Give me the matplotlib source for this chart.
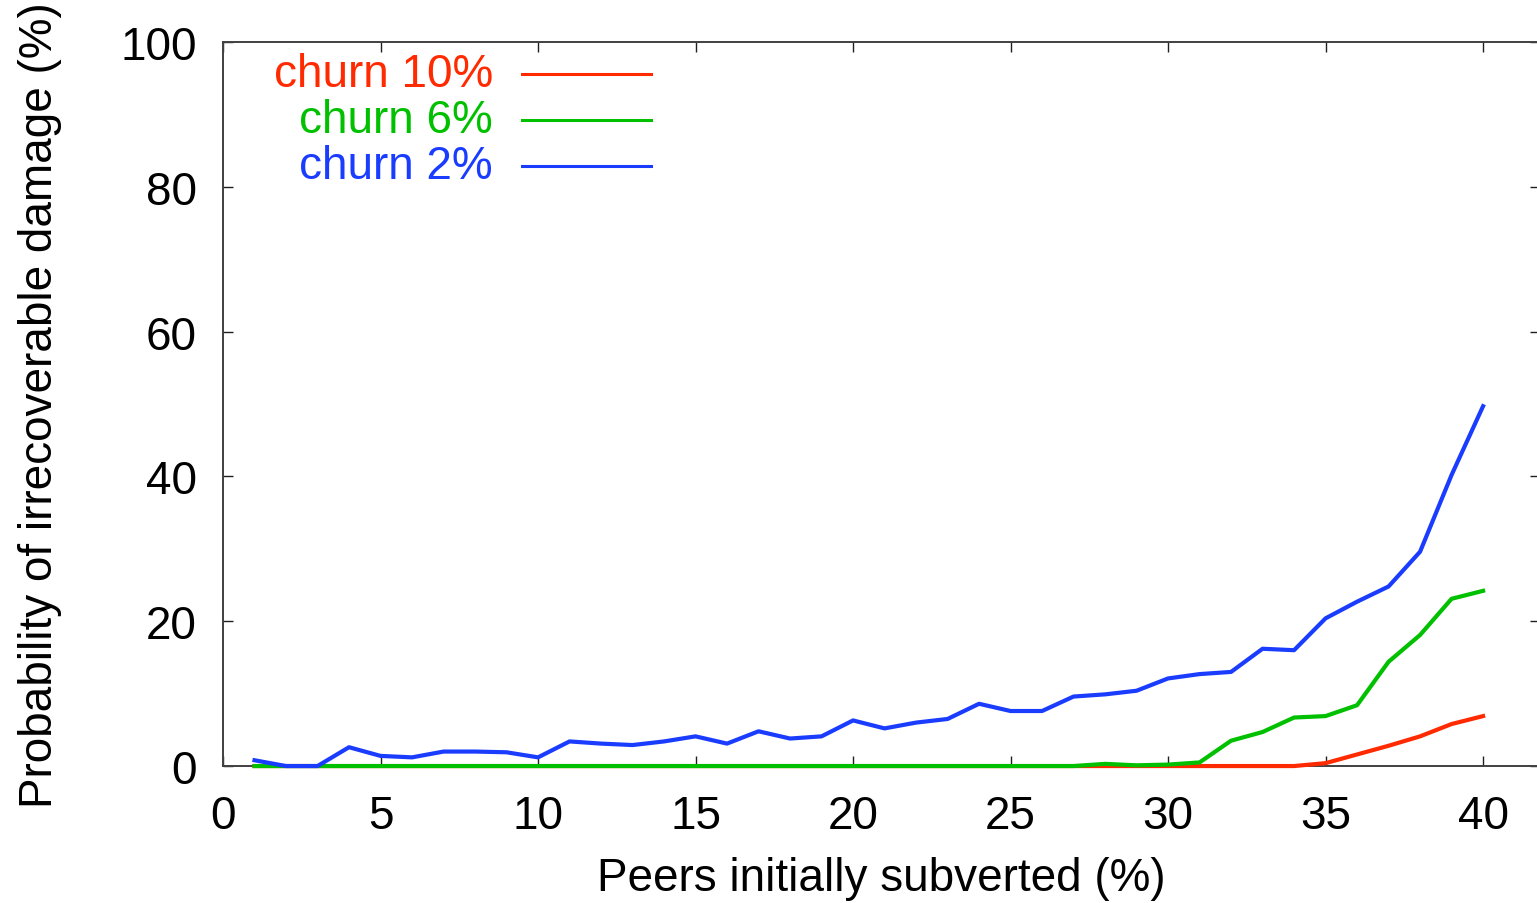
import numpy as np
import matplotlib
matplotlib.use("Agg")
import matplotlib.pyplot as plt

plt.rcParams['font.family'] = ['Liberation Sans', 'DejaVu Sans']

# peers initially subverted (%)
subverted = np.arange(1, 41)

churn_2 = [0.8, 0.0, 0.0, 2.6, 1.4, 1.2, 2.0, 2.0, 1.9, 1.2,
           3.4, 3.1, 2.9, 3.4, 4.1, 3.1, 4.8, 3.8, 4.1, 6.3,
           5.2, 6.0, 6.5, 8.6, 7.6, 7.6, 9.6, 9.9, 10.4, 12.1,
           12.7, 13.0, 16.2, 16.0, 20.4, 22.7, 24.8, 29.6, 40.2, 49.7]
churn_6 = [0.0] * 27 + [0.3, 0.1, 0.2, 0.5, 3.5, 4.7, 6.7, 6.9, 8.4,
                        14.4, 18.1, 23.1, 24.2]
churn_10 = [0.0] * 34 + [0.4, 1.6, 2.8, 4.1, 5.8, 6.9]

labels = ["churn 10%", "churn 6%", "churn 2%"]
colors = ["#ff2a00", "#00c000", "#1a3cff"]
series = [churn_10, churn_6, churn_2]

fs = 33

fig = plt.figure(figsize=(15.37, 9.04), dpi=100)
ax = fig.add_axes([0.1451, 0.1515, 0.8567, 0.8009])

for ys, c in zip(series, colors):
    ax.plot(subverted, ys, color=c, lw=3.0, zorder=3, clip_on=False)

ax.set_xlim(0, 41.8)
ax.set_ylim(0, 100)
ax.set_xticks(range(0, 41, 5))
ax.set_yticks(range(0, 101, 20))

for s in ax.spines.values():
    s.set_color("#404040")
    s.set_linewidth(1.4)
ax.tick_params(direction="in", length=7, width=1.0, color="#202020",
               top=True, right=True, labelsize=fs)
ax.tick_params(axis="x", pad=20)
ax.tick_params(axis="y", pad=19)

ax.set_xlabel("Peers initially subverted (%)", fontsize=fs, labelpad=13)
ax.set_ylabel("Probability of irrecoverable damage (%)", fontsize=fs, labelpad=42)

# gnuplot style key: right aligned text, sample line after it
for i, (lab, c) in enumerate(zip(labels, colors)):
    yk = 0.956 - i * 0.0635
    ax.text(0.205, yk, lab, color=c, fontsize=fs, ha="right", va="center",
            transform=ax.transAxes)
    ax.plot([0.227, 0.325], [yk, yk], color=c, lw=2.2, transform=ax.transAxes)

fig.savefig("out.png", dpi=100)
